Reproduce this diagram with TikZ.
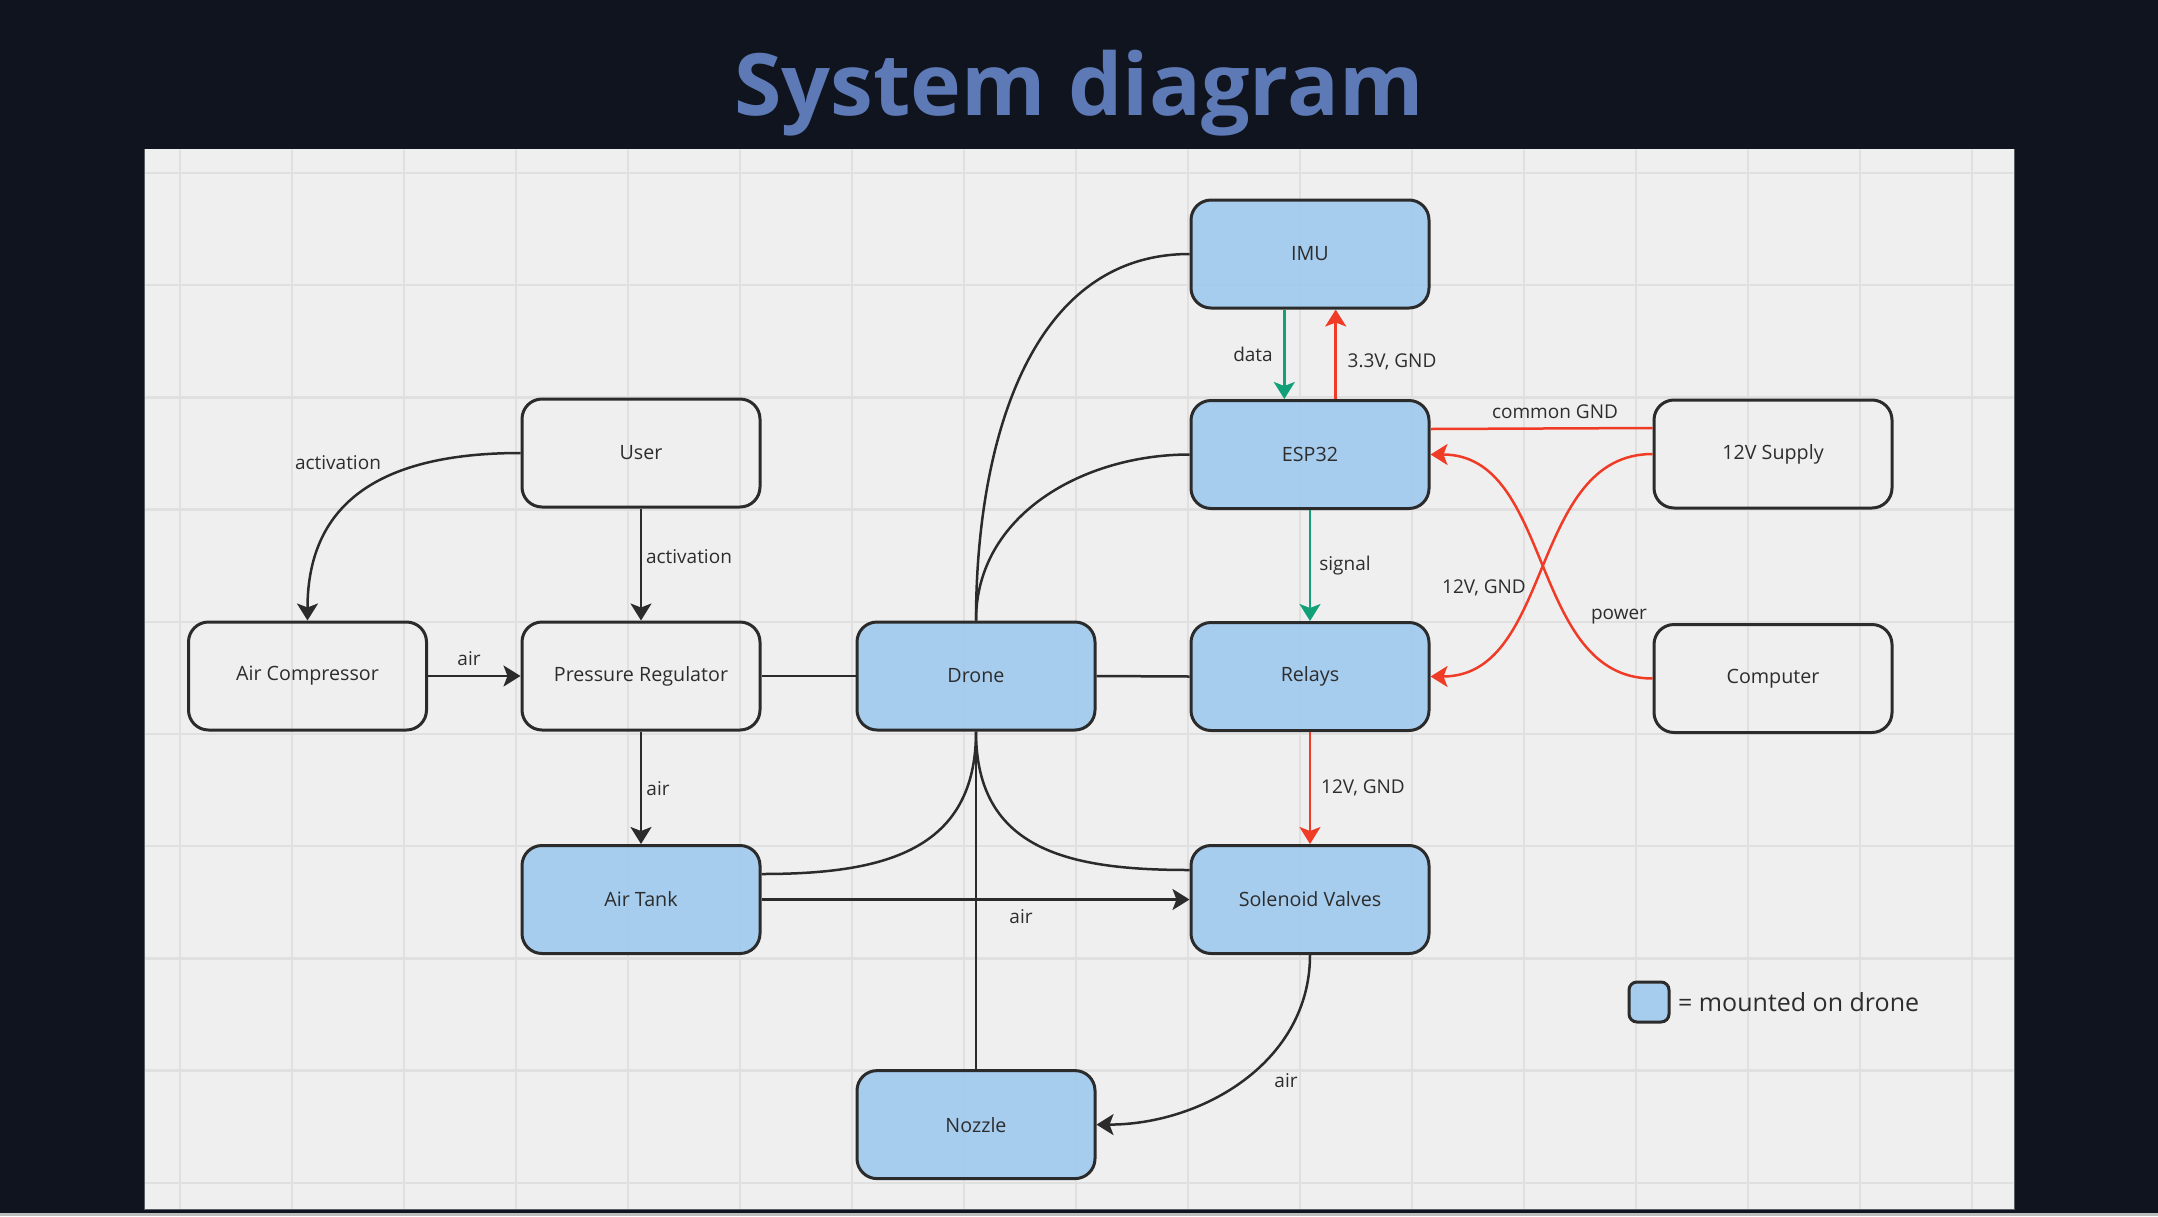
\documentclass[tikz,border=0pt]{standalone}
\usepackage{fontspec}
\setmainfont{Open Sans}
\usetikzlibrary{arrows.meta}
\definecolor{bgdark}{RGB}{16,20,31}
\definecolor{panel}{RGB}{239,239,239}
\definecolor{panelrim}{RGB}{88,93,104}
\definecolor{stripc}{RGB}{190,190,190}
\definecolor{gridc}{RGB}{224,224,224}
\definecolor{boxblue}{RGB}{157,200,238}
\definecolor{edgec}{RGB}{43,43,43}
\definecolor{redc}{RGB}{240,60,38}
\definecolor{greenc}{RGB}{18,160,120}
\definecolor{titlec}{RGB}{94,122,182}
\definecolor{txt}{RGB}{45,45,45}
\begin{document}
\begin{tikzpicture}[x=1pt,y=-1pt,
  box/.style={draw=edgec, line width=3pt, rounded corners=20pt, minimum width=238pt, minimum height=108pt, font=\fontsize{19.7}{24}\selectfont, text=txt, inner sep=0pt},
  plainbox/.style={box},
  onboard/.style={box, fill=boxblue, fill opacity=0.88, text opacity=1},
  lbl/.style={font=\fontsize{19}{23}\selectfont, text=txt, inner sep=0pt},
  conn/.style={draw=edgec, line width=2.5pt},
  rconn/.style={draw=redc, line width=2.5pt},
  gconn/.style={draw=greenc, line width=2.5pt},
  arr/.style={-{Stealth[length=17pt,width=21pt,inset=4pt]}},
]
\useasboundingbox (0,0) rectangle (2158,1216);
\fill[bgdark] (0,0) rectangle (2158,1216);
\fill[stripc] (0,1213.3) rectangle (2158,1216);
\fill[panel] (144.5,148.6) rectangle (2013.5,1209.5);
\begin{scope}
\clip (144.5,148.6) rectangle (2013.5,1209.5);
\foreach \i in {0,...,16} \draw[gridc, line width=1.5pt] (180+112*\i,148.6) -- (180+112*\i,1209.5);
\foreach \j in {0,...,9} \draw[gridc, line width=2.5pt] (144.5,173+112.2*\j) -- (2013.5,173+112.2*\j);
\end{scope}
\draw[panelrim, line width=1pt] (144,148.6) -- (144,1209.8) -- (2014,1209.8) -- (2014,148.6);

\node[font=\fontsize{86}{100}\selectfont\bfseries, text=titlec, anchor=base, inner sep=0pt] (title) at (1079,115) {System diagram};

% boxes
\node[onboard] (imu) at (1310,254) {IMU};
\node[onboard] (esp) at (1310,454.5) {ESP32};
\node[plainbox] (sup) at (1773,454) {12V Supply};
\node[plainbox] (user) at (641,453) {User};
\node[plainbox] (comp) at (307.5,676) {Air Compressor};
\node[plainbox] (preg) at (641,676) {Pressure Regulator};
\node[onboard] (drone) at (976,676) {Drone};
\node[onboard] (relays) at (1310,676.5) {Relays};
\node[plainbox] (pc) at (1773,678.5) {Computer};
\node[onboard] (tank) at (641,899.5) {Air Tank};
\node[onboard] (sol) at (1310,899.5) {Solenoid Valves};
\node[onboard] (nozzle) at (976,1124.6) {Nozzle};

% black connectors
\draw[conn,arr] (user.west) to[out=180,in=90,looseness=1.2] (comp.north);
\draw[conn,arr] (user.south) -- (preg.north);
\draw[conn,arr] (comp.east) -- (preg.west);
\draw[conn,arr] (preg.south) -- (tank.north);
\draw[conn] (preg.east) -- (drone.west);
\draw[conn] (drone.east) -- (relays.west);
\draw[conn] (drone.north) to[out=90,in=180] (imu.west);
\draw[conn] (drone.north) to[out=90,in=180] (esp.west);
\draw[conn] (drone.south) to[out=-90,in=0,looseness=1.2] ([yshift=25.5pt]tank.east);
\draw[conn] (drone.south) to[out=-90,in=180,looseness=1.2] ([yshift=29.5pt]sol.west);
\draw[conn] (drone.south) -- (nozzle.north);
\draw[conn,arr] (tank.east) -- (sol.west);
\draw[conn,arr] (sol.south) to[out=-90,in=0] (nozzle.east);

% green / red
\draw[gconn,arr] ([xshift=-25.7pt]imu.south) -- ([xshift=-25.7pt]esp.north);
\draw[rconn,arr] ([xshift=25.7pt]esp.north) -- ([xshift=25.7pt]imu.south);
\draw[gconn,arr] (esp.south) -- (relays.north);
\draw[rconn,arr] (relays.south) -- (sol.north);
\draw[rconn] ([yshift=26pt]sup.west) -- ([yshift=25.5pt]esp.east);
\draw[rconn,arr] (sup.west) to[out=180,in=0] (relays.east);
\draw[rconn,arr] (pc.west) to[out=180,in=0] (esp.east);

% labels
\node[lbl] (l1) at (338,463) {activation};
\node[lbl] (l2) at (689,557) {activation};
\node[lbl] (l3) at (469,659) {air};
\node[lbl] (l4) at (658,789) {air};
\node[lbl] (l5) at (1021,917) {air};
\node[lbl] (l6) at (1286,1081) {air};
\node[lbl] (l7) at (1253,354) {data};
\node[lbl] (l8) at (1392,362) {3.3V, GND};
\node[lbl] (l9) at (1555,412) {common GND};
\node[lbl] (l10) at (1345,566) {signal};
\node[lbl] (l11) at (1484,588) {12V, GND};
\node[lbl] (l12) at (1619,617) {power};
\node[lbl] (l13) at (1363,788) {12V, GND};

% legend
\node[onboard, minimum width=40pt, minimum height=40pt, rounded corners=8pt] (leg) at (1649,1002) {};
\node[anchor=west, font=\fontsize{25}{30}\selectfont, text=txt, inner sep=0pt] (legt) at (1678,1002) {= mounted on drone};
\end{tikzpicture}
\end{document}
